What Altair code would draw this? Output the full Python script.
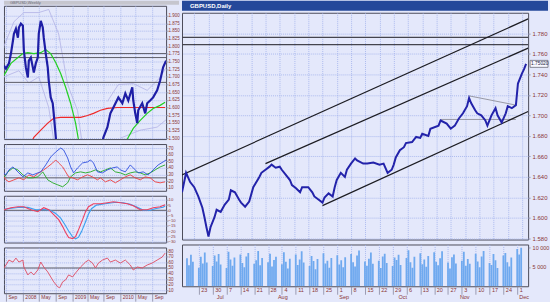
import altair as alt
import pandas as pd

FONT = "Liberation Sans"
BG = "#e4e8fb"
GRID = "#9fb0ec"
FRAME = "#4c4c5a"
LBL = "#8a3434"

# ---------------- left window (weekly history) ----------------
L_TITLE = "GBPUSD,Weekly"
L_TICK_POS = [2, 19, 35, 52, 69, 84, 100, 117, 132, 149]
L_TICK_LAB = ["Sep", "2008", "May", "Sep", "2009", "May", "Sep", "2010", "May", "Sep"]
L_PRICE_TICKS = [1.500, 1.525, 1.550, 1.575, 1.600, 1.625, 1.650, 1.675, 1.700, 1.725,
                 1.750, 1.775, 1.800, 1.825, 1.850, 1.875, 1.900]
L_HLINES = [1.776, 1.763, 1.682]

L_X = [0, 2, 5, 7, 9, 10, 12, 14, 15, 17, 19, 20, 22, 24, 25, 27, 29, 30, 32, 34,
       35, 37, 39, 40, 42, 44, 45, 47, 49, 50, 53, 60, 75, 90, 97, 100, 104, 107, 110, 115,
       119, 122, 125, 129, 130, 132, 134, 135, 139, 142, 144, 147, 150, 154, 157, 160, 163]
L_Y = [1.737, 1.727, 1.744, 1.776, 1.818, 1.841, 1.857, 1.828, 1.861, 1.874,
       1.867, 1.786, 1.731, 1.698, 1.753, 1.763, 1.731, 1.714, 1.744, 1.763,
       1.841, 1.883, 1.861, 1.828, 1.776, 1.731, 1.688, 1.633, 1.614, 1.581,
       1.470, 1.380, 1.350, 1.400, 1.460,
       1.503, 1.536, 1.581, 1.600, 1.633, 1.614, 1.646, 1.623, 1.666, 1.623,
       1.581, 1.549, 1.591, 1.614, 1.581, 1.614, 1.623, 1.633, 1.656, 1.688,
       1.731, 1.753]

G_X = [0, 7, 14, 19, 24, 30, 37, 42, 47, 52, 57, 62, 67, 72, 75, 85, 110, 125, 130, 137, 144, 150, 157, 162]
G_Y = [1.705, 1.744, 1.763, 1.776, 1.779, 1.776, 1.779, 1.789, 1.776, 1.747,
       1.711, 1.666, 1.614, 1.549, 1.493, 1.380, 1.400, 1.503, 1.532, 1.558,
       1.581, 1.597, 1.607, 1.617]

RM_X = [27, 30, 37, 44, 50, 57, 67, 77, 84, 90, 97, 104, 114, 130, 147, 162]
RM_Y = [1.480, 1.503, 1.526, 1.549, 1.565, 1.568, 1.568, 1.568, 1.574, 1.581,
        1.591, 1.597, 1.600, 1.600, 1.600, 1.600]

ENV_X = [[0, 10, 20, 35, 45, 55, 64, 74, 80],
         [0, 15, 25, 35, 45, 52],
         [104, 115, 130, 144, 157, 163],
         [117, 137, 154, 163]]
ENV_Y = [[1.80, 1.88, 1.91, 1.91, 1.92, 1.84, 1.675, 1.59, 1.45],
         [1.70, 1.72, 1.68, 1.70, 1.60, 1.45],
         [1.62, 1.675, 1.678, 1.656, 1.698, 1.731],
         [1.50, 1.526, 1.536, 1.56]]

OSC1_TICKS = [10, 20, 30, 40, 50, 60, 70]
OSC1_LINE = [25]
B1_X = [0, 2, 5, 9, 12, 15, 19, 24, 29, 34, 37, 42, 47, 52, 57, 60, 64, 67, 70, 74,
        79, 84, 87, 90, 94, 99, 104, 109, 114, 117, 122, 127, 130, 135, 140, 145, 150, 155, 160, 163]
B1_Y = [32.5, 29.5, 37, 41.5, 37, 32.5, 26.5, 32.5, 29.5, 32.5, 34, 44.5, 56.5, 64, 70, 67, 55, 41.5, 32.5, 40,
        47.5, 49, 52, 47.5, 34, 32.5, 37, 40, 41.5, 37, 34, 44.5, 40, 32.5, 34, 29.5, 37, 44.5, 49, 52]
R1_X = [0, 2, 5, 10, 15, 20, 25, 30, 35, 40, 44, 49, 52, 55, 59, 62, 65, 69, 74, 79,
        84, 89, 94, 97, 102, 107, 112, 117, 122, 127, 132, 137, 142, 147, 152, 157, 162]
R1_Y = [26.5, 22, 19, 22, 25, 22, 29.5, 26.5, 32.5, 37, 41.5, 47.5, 52, 47.5, 41.5, 34, 26.5, 25, 22, 26.5,
        29.5, 26.5, 22, 25, 19, 22, 17.5, 22, 26.5, 29.5, 25, 22, 26.5, 25, 19, 17.5, 19]
G1_X = [0, 4, 9, 14, 19, 24, 29, 34, 39, 44, 49, 54, 59, 64, 67, 72, 77, 82, 87, 92,
        97, 102, 107, 112, 117, 122, 127, 132, 137, 142, 147, 152, 157, 162]
G1_Y = [25, 34, 40, 37, 29.5, 25, 25, 26.5, 34, 22, 17.5, 14.5, 11.5, 17.5, 26.5, 32.5, 34, 32.5, 34, 37,
        34, 37, 40, 34, 32.5, 29.5, 32.5, 34, 32.5, 29.5, 32.5, 37, 41.5, 44.5]

OSC2_TICKS = [-30, -25, -20, -15, -10, -5, 0, 5, 10]
OSC2_LINE = [0]
M_X = [0, 7, 14, 20, 27, 34, 40, 45, 50, 55, 59, 62, 65, 69, 72, 75, 79, 82, 85, 90,
       97, 104, 110, 117, 124, 130, 137, 144, 150, 157, 162]
M_Y = [0.6, 2.5, 3.4, 3.4, 0.6, -1.3, 2.5, 0.6, -4.2, -9.0, -15.7, -21.4, -26.2, -27.2, -25.3, -18.6, -9.0, -1.3, 3.4, 6.3,
       6.3, 7.3, 8.2, 7.3, 6.3, 4.4, 0.6, 0.6, 2.5, 3.4, 5.4]
S_X = [0, 8, 16, 24, 32, 40, 46, 52, 57, 61, 65, 69, 72, 75, 78, 82, 85, 88, 93, 100,
       107, 113, 120, 127, 133, 140, 147, 153, 160, 162]
S_Y = [1.0, 2.0, 3.0, 2.8, 0.5, 0.8, 0.2, -3.0, -7.5, -13.5, -20.0, -25.5, -27.5, -25.8, -20.5, -11.0, -3.5, 1.5, 5.0, 6.0,
       7.0, 7.8, 7.2, 5.8, 3.5, 0.2, 0.0, 1.8, 3.0, 4.2]

OSC3_TICKS = [10, 20, 30, 40, 50, 60, 70, 80]
OSC3_LINE = [50]
RSI_X = [0, 2, 5, 9, 12, 15, 19, 20, 24, 27, 30, 34, 37, 40, 44, 47, 50, 54, 56, 59,
         62, 65, 69, 72, 77, 82, 85, 89, 92, 95, 99, 104, 107, 112, 117, 122, 127, 130, 134, 139,
         144, 149, 154, 159, 162]
RSI_Y = [50, 55.4, 64.3, 60.7, 67.9, 60.7, 64.3, 51.8, 37.5, 42.9, 37.5, 46.4, 60.7, 51.8, 42.9, 33.9, 25.0, 16.1, 14.3, 25.0,
         28.6, 37.5, 33.9, 41.1, 51.8, 60.7, 64.3, 58.9, 50, 58.9, 64.3, 67.9, 60.7, 64.3, 58.9, 64.3, 55.4, 46.4, 51.8, 50,
         55.4, 58.9, 64.3, 69.6, 76.8]

# ---------------- right window (daily) ----------------
R_TITLE = "GBPUSD,Daily"
R_START = "2008-06-17"
R_END = "2008-12-04"
R_PRICE_TICKS = [1.58, 1.60, 1.62, 1.64, 1.66, 1.68, 1.70, 1.72, 1.74, 1.76, 1.78]
R_HLINES = [1.776, 1.769]
R_WEEKS = ["2008-06-23", "2008-06-30", "2008-07-07", "2008-07-14", "2008-07-21", "2008-07-28",
           "2008-08-04", "2008-08-11", "2008-08-18", "2008-08-25", "2008-09-01", "2008-09-08",
           "2008-09-15", "2008-09-22", "2008-09-29", "2008-10-06", "2008-10-13", "2008-10-20",
           "2008-10-27", "2008-11-03", "2008-11-10", "2008-11-17", "2008-11-24", "2008-12-01"]
MONTH_DATES = ["2008-07-01", "2008-08-01", "2008-09-01", "2008-10-01", "2008-11-01", "2008-12-01"]
MONTH_NAMES = ["Jul", "Aug", "Sep", "Oct", "Nov", "Dec"]

R_DATES = ["06-17", "06-19", "06-21", "06-23", "06-25", "06-27", "06-28", "06-29", "06-30", "07-01",
           "07-03", "07-04", "07-06", "07-08", "07-10", "07-11", "07-13", "07-15", "07-16", "07-18",
           "07-20", "07-22", "07-25", "07-26", "07-28", "07-30", "07-31", "08-02", "08-04", "08-05",
           "08-07", "08-09", "08-10", "08-12", "08-14", "08-15", "08-18", "08-20", "08-21", "08-23",
           "08-25", "08-26", "08-28", "08-30", "08-31", "09-01", "09-03", "09-05", "09-06", "09-08",
           "09-10", "09-11", "09-14", "09-16", "09-19", "09-22", "09-24", "09-26", "09-28", "09-29",
           "09-30", "10-02", "10-04", "10-05", "10-08", "10-10", "10-12", "10-13", "10-16", "10-17",
           "10-21", "10-22", "10-25", "10-27", "10-29", "10-31", "11-02", "11-04", "11-05", "11-06",
           "11-08", "11-09", "11-11", "11-13", "11-14", "11-16", "11-18", "11-19", "11-21", "11-23",
           "11-24", "11-26", "11-28", "11-29", "12-01", "12-02", "12-03"]
R_CLOSE = [1.625, 1.644, 1.635, 1.630, 1.621, 1.610, 1.601, 1.591, 1.582, 1.591,
           1.601, 1.608, 1.606, 1.613, 1.618, 1.627, 1.625, 1.618, 1.615, 1.611,
           1.616, 1.630, 1.640, 1.644, 1.647, 1.650, 1.652, 1.649, 1.650, 1.647,
           1.642, 1.637, 1.632, 1.629, 1.625, 1.630, 1.630, 1.625, 1.621, 1.618,
           1.615, 1.620, 1.624, 1.621, 1.630, 1.637, 1.644, 1.640, 1.647, 1.653,
           1.658, 1.656, 1.653, 1.653, 1.654, 1.652, 1.653, 1.644, 1.647, 1.652,
           1.659, 1.666, 1.669, 1.673, 1.674, 1.679, 1.678, 1.682, 1.680, 1.687,
           1.690, 1.695, 1.692, 1.687, 1.690, 1.697, 1.702, 1.709, 1.717, 1.712,
           1.705, 1.702, 1.700, 1.695, 1.690, 1.700, 1.707, 1.700, 1.693, 1.702,
           1.709, 1.707, 1.710, 1.731, 1.741, 1.745, 1.7502]

TREND_D = [["2008-06-17", "2008-12-04"], ["2008-07-28", "2008-12-04"], ["2008-08-25", "2008-12-04"]]
TREND_Y = [[1.642, 1.794], [1.653, 1.7655], [1.612, 1.7037]]
GRAY_D = [["2008-11-05", "2008-11-28"], ["2008-10-22", "2008-11-28"]]
GRAY_Y = [[1.719, 1.710], [1.696, 1.696]]

VOL = [7200, 5400, 8100, 6300, 4800, 7600, 5900, 8700, 6100, 5200,
       7900, 6400, 8300, 5600, 4700, 8900, 6900, 5300, 7400, 8200, 6000, 4900, 7700, 8600, 5800,
       6700, 9100, 5400, 7300, 6200, 8400, 5100, 6800,
       7600, 5700, 8800, 6300, 4600, 7100, 8200, 5500, 6900, 9000, 6100, 5200, 7800, 6500, 4400,
       7000, 8500, 5900, 6600, 4800, 7300,
       8000, 5600, 6700, 4900, 7500, 8300, 6200, 5100, 7900, 9200, 6400, 5300, 7100, 8700, 5800,
       6600, 4700, 7700, 8400, 6000, 5200, 7400,
       6800, 8100, 5500, 7300, 9300, 6200, 4800, 7600, 8500, 5700, 6900, 5000, 7800, 8800, 6300,
       5400, 7200, 9000, 6100, 4600, 7500, 8200, 5900,
       6600, 8900, 5300, 7000, 5800, 8400, 6400, 4900, 7700, 9100, 6000, 5500, 8300, 6700, 4700,
       7900, 8600, 6200, 5100, 7400,
       9600, 8200, 9900]
VOL_TICKS = [5000, 10000]

assert len(R_DATES) == len(R_CLOSE)


def dt(s):
    y, m, d = (int(p) for p in s.split("-"))
    return alt.DateTime(year=y, month=m, date=d, utc=True)


# ---------------- shared encodings ----------------
LX_SCALE = alt.Scale(domain=[0, 163], nice=False, zero=False)
LEXPR = ("[" + ",".join("'%s'" % s for s in L_TICK_LAB) + "][indexof(["
         + ",".join(str(p) for p in L_TICK_POS) + "], datum.value)]")


def lx(bottom):
    if bottom:
        ax = alt.Axis(values=L_TICK_POS, grid=True, domain=False, title=None, tickSize=8,
                      labelAlign="left", labelPadding=-7, labelOffset=2, labelFlush=False,
                      labelOverlap=False, labelFontSize=5, labelExpr=LEXPR)
    else:
        ax = alt.Axis(values=L_TICK_POS, grid=True, domain=False, title=None,
                      labels=False, ticks=False)
    return alt.X("x:Q", scale=LX_SCALE, axis=ax)


def yq(field, domain, ticks, fmt, fs, pad=0):
    return alt.Y(field + ":Q", scale=alt.Scale(domain=domain, nice=False, zero=False),
                 axis=alt.Axis(orient="right", values=ticks, format=fmt, grid=True, domain=False,
                               title=None, tickSize=2, labelPadding=pad, labelFontSize=fs,
                               labelOverlap=False, labelFlush=False))


def line(xs, ys, color, w, X, Y):
    df = pd.DataFrame({"x": xs, "y": ys})
    return alt.Chart(df).mark_line(color=color, strokeWidth=w, clip=True).encode(x=X, y=Y)


def hrules(vals, color, w, Y):
    return alt.Chart(pd.DataFrame({"y": vals})).mark_rule(color=color, strokeWidth=w).encode(y=Y)


# ---------------- left panels ----------------
XL = lx(False)
XLB = lx(True)
YLP = yq("y", [1.497, 1.932], L_PRICE_TICKS, ".3f", 4.5)
left_price = alt.layer(
    *[line(ex, ey, "#b2b2e6", 0.8, XL, YLP) for ex, ey in zip(ENV_X, ENV_Y)],
    hrules(L_HLINES, "#5c5c66", 1, YLP),
    line(RM_X, RM_Y, "#f02828", 1.2, XL, YLP),
    line(G_X, G_Y, "#22d022", 1.2, XL, YLP),
    line(L_X, L_Y, "#1e1ea6", 2.2, XL, YLP),
).properties(width=163, height=134)

Y1 = yq("y", [5.5, 76], OSC1_TICKS, "d", 4.5)
osc1 = alt.layer(
    hrules(OSC1_LINE, "#5c5c66", 1, Y1),
    line(G1_X, G1_Y, "#22a822", 0.9, XL, Y1),
    line(R1_X, R1_Y, "#ee4040", 0.9, XL, Y1),
    line(B1_X, B1_Y, "#3050e0", 0.9, XL, Y1),
).properties(width=163, height=47)

Y2 = yq("y", [-31, 14], OSC2_TICKS, "d", 4.2)
osc2 = alt.layer(
    hrules(OSC2_LINE, "#5c5c66", 1, Y2),
    line(S_X, S_Y, "#3aa0f0", 1.1, XL, Y2),
    line(M_X, M_Y, "#ee4060", 1.1, XL, Y2),
).properties(width=163, height=47)

Y3 = yq("y", [4.5, 87], OSC3_TICKS, "d", 4.5)
osc3 = alt.layer(
    hrules(OSC3_LINE, "#5c5c66", 1, Y3),
    line(RSI_X, RSI_Y, "#e04a60", 0.9, XLB, Y3),
).properties(width=163, height=46)

ltitle = alt.Chart(pd.DataFrame({"t": [L_TITLE]})).mark_text(
    align="left", baseline="middle", color="#6a6a78", fontSize=4
).encode(text="t:N", x=alt.value(6), y=alt.value(2)).properties(
    width=176, height=4, view=alt.ViewBackground(fill="#c6c6ce", stroke="#c6c6ce", strokeWidth=0))

# ---------------- right panels ----------------
WEEKS_DT = [dt(s) for s in R_WEEKS]
RX_SCALE = alt.Scale(type="utc", domain=[dt(R_START), dt(R_END)])
XRP = alt.X("d:T", scale=RX_SCALE,
            axis=alt.Axis(values=WEEKS_DT, labels=False, ticks=False, grid=True, domain=False, title=None))
YRP = yq("y", [1.579, 1.800], R_PRICE_TICKS, ".3f", 6, pad=2)

price_df = pd.DataFrame({"d": ["2008-" + s for s in R_DATES], "y": R_CLOSE})
trend_df = pd.DataFrame({
    "d": [d for pair in TREND_D for d in pair],
    "y": [v for pair in TREND_Y for v in pair],
    "g": [i for i, pair in enumerate(TREND_D) for _ in pair],
})
gray_df = pd.DataFrame({
    "d": [d for pair in GRAY_D for d in pair],
    "y": [v for pair in GRAY_Y for v in pair],
    "g": [i for i, pair in enumerate(GRAY_D) for _ in pair],
})
last = R_CLOSE[-1]
box_df = pd.DataFrame({"y": [last], "lo": [last - 0.0034], "hi": [last + 0.0034],
                       "t": ["%.5f" % last]})

right_price = alt.layer(
    hrules(R_HLINES, "#44444e", 1.2, YRP),
    alt.Chart(gray_df).mark_line(color="#85858f", strokeWidth=0.8, clip=True).encode(
        x=XRP, y=YRP, detail="g:N"),
    alt.Chart(trend_df).mark_line(color="#1c1c22", strokeWidth=1.2, clip=True).encode(
        x=XRP, y=YRP, detail="g:N"),
    alt.Chart(price_df).mark_line(color="#2323aa", strokeWidth=2, clip=True).encode(x=XRP, y=YRP),
    alt.Chart(box_df).mark_rect(fill="#f8f8ff", stroke="#6a6a78", strokeWidth=0.8).encode(
        x=alt.value(350), x2=alt.value(368),
        y=yq("lo", [1.579, 1.800], R_PRICE_TICKS, ".3f", 6, pad=2), y2="hi:Q"),
    alt.Chart(box_df).mark_text(align="left", baseline="middle", fontSize=4.8, color="#202040").encode(
        x=alt.value(351), y=YRP, text="t:N"),
).properties(width=348, height=228)

vol_df = pd.DataFrame({"d": pd.bdate_range(R_START, periods=len(VOL)).strftime("%Y-%m-%d"), "v": VOL})
month_df = pd.DataFrame({"d": MONTH_DATES, "m": MONTH_NAMES})
XV = alt.X("d:T", scale=RX_SCALE,
           axis=alt.Axis(values=WEEKS_DT, labelExpr="utcFormat(datum.value, '%-d')", grid=True,
                         domain=False, title=None, tickSize=8, labelAlign="left", labelPadding=-7,
                         labelOffset=2, labelFlush=False, labelOverlap=False, labelFontSize=5.5))
YV = alt.Y("v:Q", scale=alt.Scale(domain=[0, 10770], nice=False, zero=False),
           axis=alt.Axis(orient="right", values=VOL_TICKS, grid=False, domain=False, title=None,
                         labelExpr="replace(format(datum.value, ','), ',', ' ')",
                         tickSize=2, labelPadding=2, labelFontSize=5.5, labelFlush=False))
volume = alt.layer(
    alt.Chart(vol_df).mark_bar(width=1.8, color="#6fa9ef", clip=True).encode(x=XV, y=YV),
    alt.Chart(month_df).mark_text(align="left", baseline="top", dx=2, fontSize=5.5, color=LBL).encode(
        x=XV, y=alt.value(51), text="m:N"),
).properties(width=348, height=42)

rtitle = alt.Chart(pd.DataFrame({"t": [R_TITLE]})).mark_text(
    align="left", baseline="middle", color="white", fontSize=6, fontWeight="bold"
).encode(text="t:N", x=alt.value(8), y=alt.value(5)).properties(
    width=368, height=10, view=alt.ViewBackground(fill="#25489a", stroke="#25489a", strokeWidth=0))

# ---------------- layout ----------------
left_inner = alt.vconcat(left_price, osc1, osc2, osc3, spacing=5, bounds="flush")
left_col = alt.vconcat(ltitle, left_inner, spacing=1, bounds="flush")
right_inner = alt.vconcat(right_price, volume, spacing=5, bounds="flush")
right_col = alt.vconcat(rtitle, right_inner, spacing=2, bounds="flush")

chart = alt.hconcat(left_col, right_col, spacing=0, bounds="full").properties(
    padding={"left": 3, "top": 0, "right": 0, "bottom": 0},
    background=BG,
).configure_view(
    stroke=FRAME, strokeWidth=1, fill=BG
).configure_axis(
    labelFont=FONT, labelColor=LBL, tickColor="#8888a0", tickWidth=0.8,
    gridColor=GRID, gridDash=[1, 1], gridWidth=0.8, domain=False
).configure_text(font=FONT)

chart.save("out.html", embed_options={"renderer": "svg", "actions": False})
